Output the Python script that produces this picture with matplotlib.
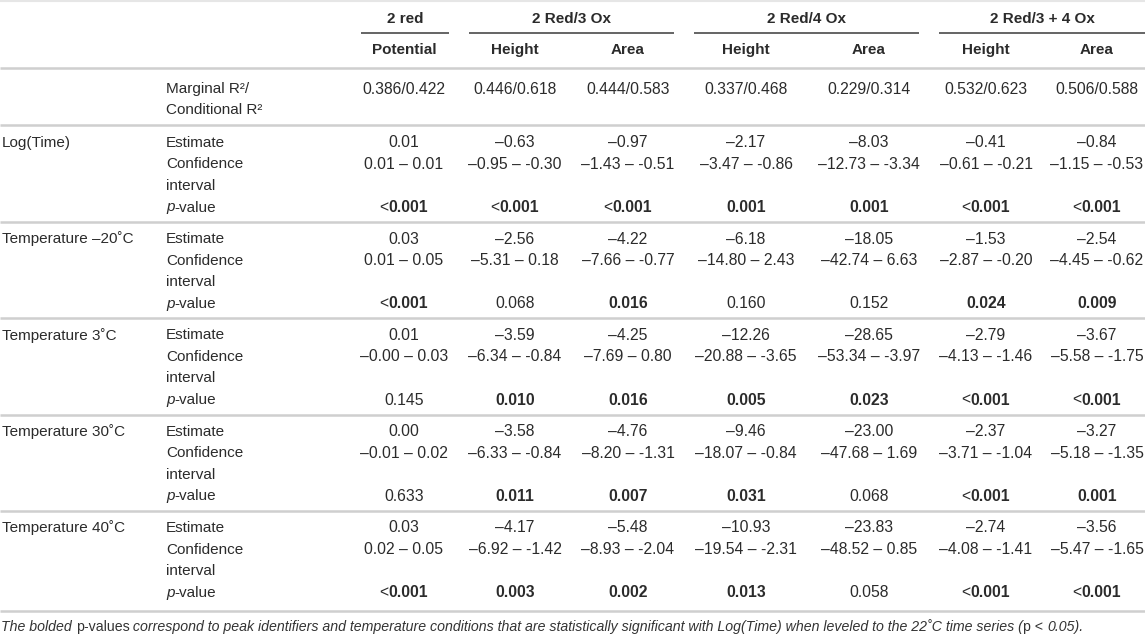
import matplotlib
matplotlib.use("Agg")
import matplotlib.pyplot as plt
from matplotlib.offsetbox import TextArea, HPacker, AnnotationBbox

# ---------------- data ----------------
groups = ["2 red", "2 Red/3 Ox", "2 Red/4 Ox", "2 Red/3 + 4 Ox"]
group_cols = [[0], [1, 2], [3, 4], [5, 6]]
measures = ["Potential", "Height", "Area", "Height", "Area", "Height", "Area"]
r2_values = ["0.386/0.422", "0.446/0.618", "0.444/0.583", "0.337/0.468",
             "0.229/0.314", "0.532/0.623", "0.506/0.588"]
predictors = ["Log(Time)", "Temperature \u201320\u02daC", "Temperature 3\u02daC",
              "Temperature 30\u02daC", "Temperature 40\u02daC"]
sub_labels = ["Estimate", "Confidence", "interval", "p-value"]

estimates = [
    [0.01, -0.63, -0.97, -2.17, -8.03, -0.41, -0.84],
    [0.03, -2.56, -4.22, -6.18, -18.05, -1.53, -2.54],
    [0.01, -3.59, -4.25, -12.26, -28.65, -2.79, -3.67],
    [0.00, -3.58, -4.76, -9.46, -23.00, -2.37, -3.27],
    [0.03, -4.17, -5.48, -10.93, -23.83, -2.74, -3.56],
]
ci_low = [
    [0.01, -0.95, -1.43, -3.47, -12.73, -0.61, -1.15],
    [0.01, -5.31, -7.66, -14.80, -42.74, -2.87, -4.45],
    [-0.00, -6.34, -7.69, -20.88, -53.34, -4.13, -5.58],
    [-0.01, -6.33, -8.20, -18.07, -47.68, -3.71, -5.18],
    [0.02, -6.92, -8.93, -19.54, -48.52, -4.08, -5.47],
]
ci_high = [
    [0.01, -0.30, -0.51, -0.86, -3.34, -0.21, -0.53],
    [0.05, 0.18, -0.77, 2.43, 6.63, -0.20, -0.62],
    [0.03, -0.84, 0.80, -3.65, -3.97, -1.46, -1.75],
    [0.02, -0.84, -1.31, -0.84, 1.69, -1.04, -1.35],
    [0.05, -1.42, -2.04, -2.31, 0.85, -1.41, -1.65],
]
p_values = [
    ["<0.001", "<0.001", "<0.001", "0.001", "0.001", "<0.001", "<0.001"],
    ["<0.001", "0.068", "0.016", "0.160", "0.152", "0.024", "0.009"],
    ["0.145", "0.010", "0.016", "0.005", "0.023", "<0.001", "<0.001"],
    ["0.633", "0.011", "0.007", "0.031", "0.068", "<0.001", "0.001"],
    ["<0.001", "0.003", "0.002", "0.013", "0.058", "<0.001", "<0.001"],
]

# ---------------- layout ----------------
W, H = 1145, 637
col_x = [404, 515, 628, 746, 869, 986, 1097]
underline_spans = [(361, 449), (469, 674), (694, 919), (939, 1145)]
x_pred = 2
x_sub = 166
y_group = 19
y_underline = 33
y_measure = 50
y_r2 = [89, 110]
hlines_y = [68, 125]
block_start = 142.7
block_step = 96.3
row_step = 21.6

FONT = "Liberation Sans"
FS = 11
FS_NUM = 11.3
TXT = "#2b2b2b"
LINE = "#cfcfcf"

fig = plt.figure(figsize=(W / 100, H / 100), dpi=100)
ax = fig.add_axes([0, 0, 1, 1])
ax.set_xlim(0, W)
ax.set_ylim(H, 0)
ax.axis("off")


def fmt(v):
    s = f"{v:.2f}"
    return s.replace("-", "\u2013")


def fmt_ci(lo, hi):
    lo_s = f"{lo:.2f}".replace("-", "\u2013")
    hi_s = f"{hi:.2f}"
    return f"{lo_s} \u2013 {hi_s}"


def put(x, y, s, ha="center", weight="normal", style="normal", size=FS, color=TXT):
    ax.text(x, y, s, ha=ha, va="center", fontsize=size, fontweight=weight,
            fontstyle=style, fontfamily=FONT, color=color)


def put_mixed(x, y, parts, align=(0.5, 0.5), size=FS, color=TXT):
    children = []
    for txt, weight, style in parts:
        children.append(TextArea(txt, textprops=dict(fontsize=size, fontweight=weight,
                                                     fontstyle=style, fontfamily=FONT,
                                                     color=color)))
    box = HPacker(children=children, align="baseline", pad=0, sep=0)
    ab = AnnotationBbox(box, (x, y), xycoords="data", box_alignment=align,
                        frameon=False, pad=0)
    ax.add_artist(ab)


def put_p(x, y, s):
    val = float(s.lstrip("<"))
    bold = "bold" if val < 0.05 else "normal"
    if s.startswith("<"):
        put_mixed(x, y, [("<", "normal", "normal"), (s[1:], bold, "normal")], size=FS_NUM)
    else:
        put(x, y, s, weight=bold, size=FS_NUM)


# top faint rule
ax.hlines(0.8, 0, W, color="#e6e6e6", lw=1.5)

# group headers with underlines
for g, cols, (x0, x1) in zip(groups, group_cols, underline_spans):
    put((x0 + x1) / 2, y_group, g, weight="bold")
    ax.hlines(y_underline, x0, x1, color="#3a3a3a", lw=1.1)

for x, m in zip(col_x, measures):
    put(x, y_measure, m, weight="bold")

for y in hlines_y:
    ax.hlines(y, 0, W, color=LINE, lw=1.8)

# R2 row
put(x_sub, y_r2[0], "Marginal R\u00b2/", ha="left")
put(x_sub, y_r2[1], "Conditional R\u00b2", ha="left")
for x, v in zip(col_x, r2_values):
    put(x, y_r2[0], v, size=FS_NUM)

# blocks
for i, pred in enumerate(predictors):
    y0 = block_start + i * block_step
    rows = [y0 + k * row_step for k in range(4)]
    put(x_pred, rows[0], pred, ha="left")
    put(x_sub, rows[0], sub_labels[0], ha="left")
    put(x_sub, rows[1], sub_labels[1], ha="left")
    put(x_sub, rows[2], sub_labels[2], ha="left")
    put_mixed(x_sub, rows[3], [("p", "normal", "italic"), ("-value", "normal", "normal")],
              align=(0, 0.5))
    for j, x in enumerate(col_x):
        put(x, rows[0], fmt(estimates[i][j]), size=FS_NUM)
        put(x, rows[1], fmt_ci(ci_low[i][j], ci_high[i][j]), size=FS_NUM)
        put_p(x, rows[3], p_values[i][j])
    if i < len(predictors) - 1:
        ax.hlines(y0 + block_step - 17, 0, W, color=LINE, lw=1.8)
    else:
        ax.hlines(rows[3] + 18, 0, W, color=LINE, lw=1.8)

# footnote
put_mixed(1, 627, [("The bolded ", "normal", "italic"),
                   ("p-values", "normal", "normal"),
                   (" correspond to peak identifiers and temperature conditions that are "
                    "statistically significant with Log(Time) when leveled to the 22\u02daC "
                    "time series (", "normal", "italic"),
                   ("p < ", "normal", "normal"),
                   ("0.05).", "normal", "italic")],
          align=(0, 0.5), size=10.2, color="#333333")

fig.savefig("out.png", dpi=100)
